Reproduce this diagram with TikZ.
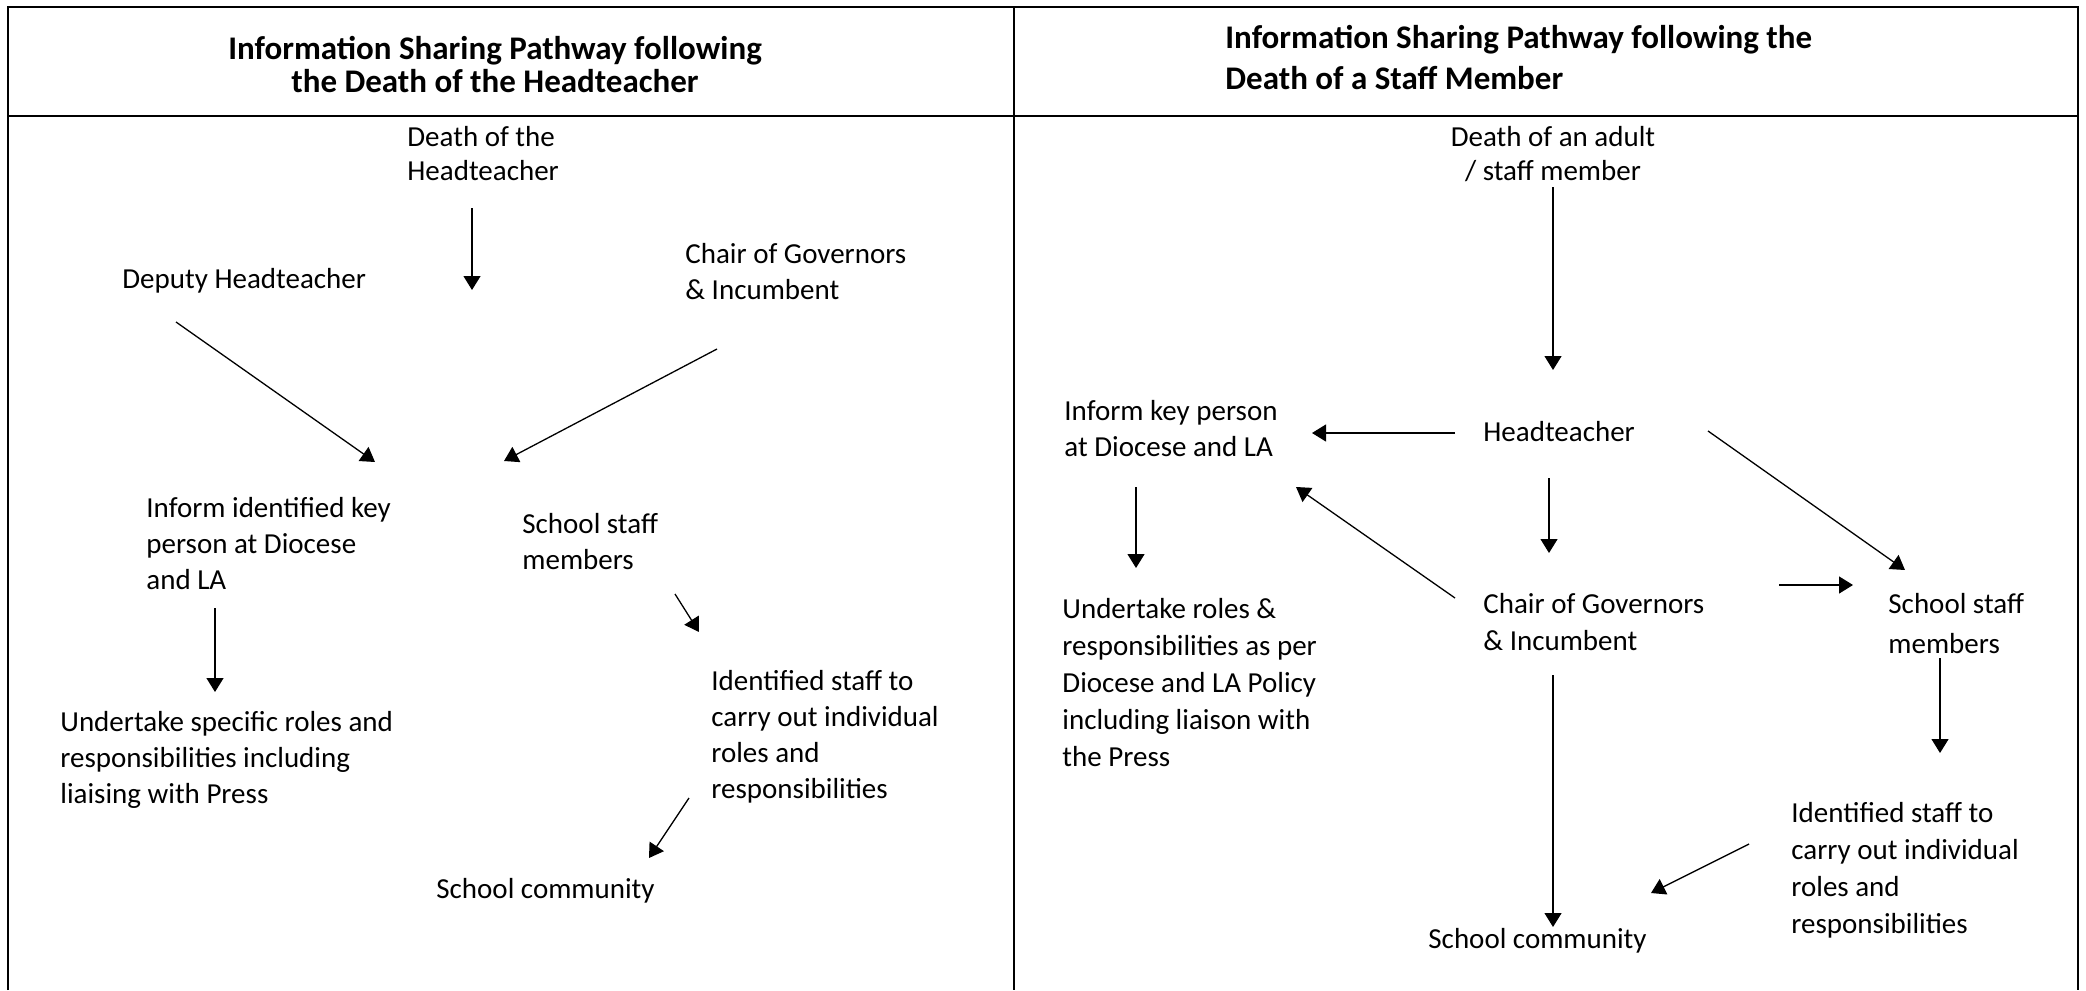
\documentclass[tikz,border=0pt]{standalone}
\usepackage{fontspec}
\setmainfont{Carlito}
\usetikzlibrary{arrows.meta}
% note: for multi-line nodes the base anchor is the baseline of the last line
\tikzset{
  txt/.style={inner sep=0pt, anchor=base west, align=left, font=\fontsize{14.5}{18}\selectfont},
  ctxt/.style={inner sep=0pt, anchor=base, align=center, font=\fontsize{14.5}{17}\selectfont},
  ttl/.style={inner sep=0pt, anchor=base, align=center, font=\fontsize{16.5}{17}\selectfont\bfseries},
  arr/.style={-{Triangle[length=7pt,width=8.5pt]}, line width=0.65pt},
  frameline/.style={line width=1pt}
}
\begin{document}
\begin{tikzpicture}[x=0.5pt,y=-0.5pt]
\useasboundingbox (0,0) rectangle (2086,990);
% frame
\draw[frameline] (8,990) -- (8,7) -- (2078,7) -- (2078,990);
\draw[frameline] (1014,7) -- (1014,990);
\draw[frameline] (8,116) -- (2078,116);

% ---------- left panel ----------
\node[ttl] (titleL) at (495,93) {Information Sharing Pathway following\\the Death of the Headteacher};
\node[txt, font=\fontsize{14.5}{17}\selectfont] (deathH) at (407,180) {Death of the\\Headteacher};
\node[txt] (deputy) at (122,288) {Deputy Headteacher};
\node[txt] (chairL) at (685,299) {Chair of Governors\\\& Incumbent};
\node[txt] (informL) at (146,589) {Inform identified key\\person at Diocese\\and LA};
\node[txt] (staffL) at (522,569) {School staff\\members};
\node[txt] (underL) at (60,803) {Undertake specific roles and\\responsibilities including\\liaising with Press};
\node[txt] (identL) at (711,798) {Identified staff to\\carry out individual\\roles and\\responsibilities};
\node[txt] (commL) at (436,898) {School community};

\coordinate (deathH-out) at (472,208);
\coordinate (deathH-in) at (472,290);
\coordinate (deputy-out) at (176,322);
\coordinate (deputy-in) at (375,462);
\coordinate (chairL-out) at (717,349);
\coordinate (chairL-in) at (504,461);
\coordinate (informL-out) at (215,608);
\coordinate (underL-in) at (215,692);
\coordinate (staffL-out) at (675,594);
\coordinate (identL-in) at (699,632);
\coordinate (identL-out) at (689,798);
\coordinate (commL-in) at (649,858);

\draw[arr] (deathH-out) -- (deathH-in);
\draw[arr] (deputy-out) -- (deputy-in);
\draw[arr] (chairL-out) -- (chairL-in);
\draw[arr] (informL-out) -- (underL-in);
\draw[arr] (staffL-out) -- (identL-in);
\draw[arr] (identL-out) -- (commL-in);

% ---------- right panel ----------
\node[txt, font=\fontsize{16.5}{20.5}\selectfont\bfseries] (titleR) at (1225,90) {Information Sharing Pathway following the\\Death of a Staff Member};
\node[ctxt] (deathS) at (1553,180) {Death of an adult\\/ staff member};
\node[txt] (informR) at (1064,456) {Inform key person\\at Diocese and LA};
\node[txt] (head) at (1483,441) {Headteacher};
\node[txt, font=\fontsize{14.5}{18.5}\selectfont] (underR) at (1062,766) {Undertake roles \&\\responsibilities as per\\Diocese and LA Policy\\including liaison with\\the Press};
\node[txt, font=\fontsize{14.5}{18.5}\selectfont] (chairR) at (1483,650) {Chair of Governors\\\& Incumbent};
\node[txt, font=\fontsize{14.5}{20}\selectfont] (staffR) at (1888,653) {School staff\\members};
\node[txt, font=\fontsize{14.5}{18.5}\selectfont] (identR) at (1791,933) {Identified staff to\\carry out individual\\roles and\\responsibilities};
\node[txt] (commR) at (1428,948) {School community};

\coordinate (deathS-out) at (1553,187);
\coordinate (head-in) at (1553,370);
\coordinate (head-w) at (1455,433);
\coordinate (informR-e) at (1312,433);
\coordinate (informR-out) at (1136,487);
\coordinate (underR-in) at (1136,568);
\coordinate (head-s) at (1549,478);
\coordinate (chairR-in) at (1549,553);
\coordinate (head-se) at (1708,431);
\coordinate (staffR-in) at (1905,570);
\coordinate (chairR-nw) at (1455,598);
\coordinate (informR-se) at (1296,487);
\coordinate (chairR-e) at (1779,585);
\coordinate (staffR-w) at (1853,585);
\coordinate (chairR-s) at (1553,675);
\coordinate (commR-in) at (1553,927);
\coordinate (staffR-out) at (1940,658);
\coordinate (identR-in) at (1940,753);
\coordinate (identR-out) at (1749,844);
\coordinate (commR-e) at (1651,893);

\draw[arr] (deathS-out) -- (head-in);
\draw[arr] (head-w) -- (informR-e);
\draw[arr] (informR-out) -- (underR-in);
\draw[arr] (head-s) -- (chairR-in);
\draw[arr] (head-se) -- (staffR-in);
\draw[arr] (chairR-nw) -- (informR-se);
\draw[arr] (chairR-e) -- (staffR-w);
\draw[arr] (chairR-s) -- (commR-in);
\draw[arr] (staffR-out) -- (identR-in);
\draw[arr] (identR-out) -- (commR-e);
\end{tikzpicture}
\end{document}
